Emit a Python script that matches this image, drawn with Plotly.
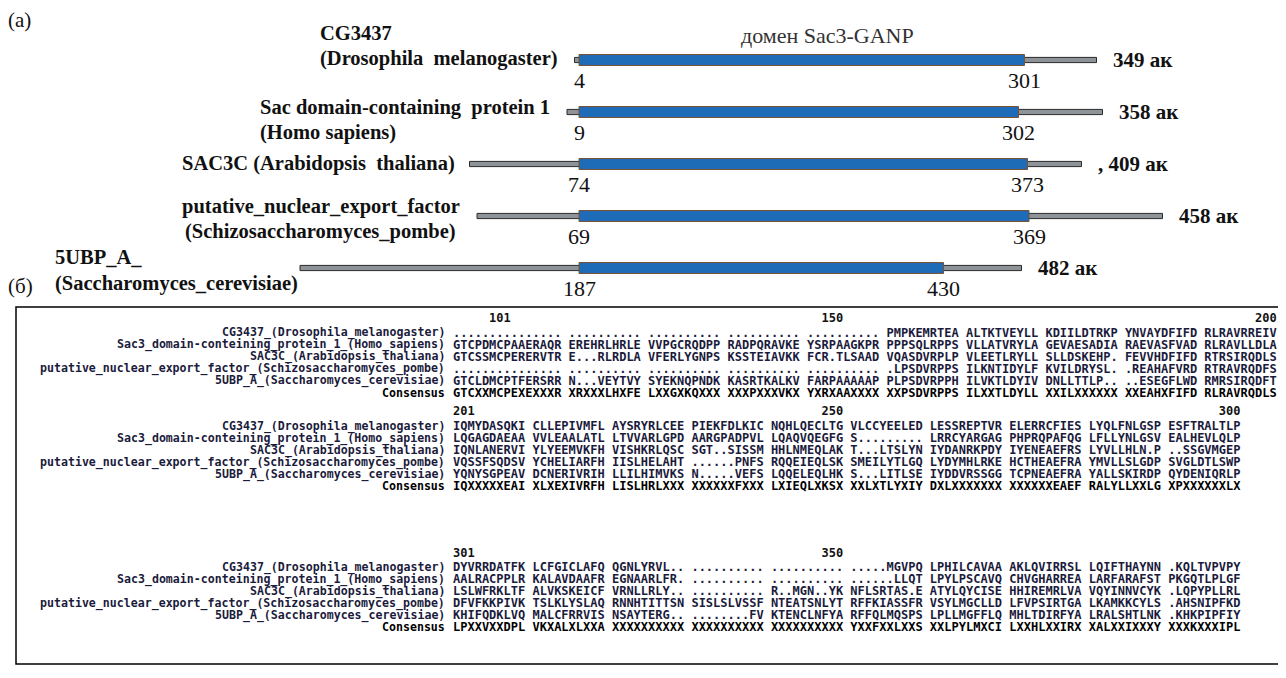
import plotly.graph_objects as go

W, H = 1286, 678          # screenshot size
OFF = 8                   # default page margin of the html body

# ---------------- panel (a): domain architecture ----------------
protein_lines = [
    ["CG3437", "(Drosophila\u00a0\u00a0melanogaster)"],
    ["Sac domain-containing\u00a0\u00a0protein 1", "(Homo sapiens)"],
    ["SAC3C (Arabidopsis\u00a0\u00a0thaliana)"],
    ["putative_nuclear_export_factor", "(Schizosaccharomyces_pombe)"],
    ["5UBP_A_", "(Saccharomyces_cerevisiae)"],
]
domain_start = [4, 9, 74, 69, 187]
domain_end = [301, 302, 373, 369, 430]
protein_length = [349, 358, 409, 458, 482]
length_labels = ["349 ак", "358 ак", ",\u00a0409 ак", "458 ак", "482 ак"]
domain_title = "домен Sac3-GANP"

# ---------------- panel (б): multiple alignment ----------------
align_names = [
    "CG3437_(Drosophila_melanogaster)",
    "Sac3_domain-conteining_protein_1_(Homo_sapiens)",
    "SAC3C_(Arabidopsis_thaliana)",
    "putative_nuclear_export_factor_(Schizosaccharomyces_pombe)",
    "5UBP_A_(Saccharomyces_cerevisiae)",
    "Consensus",
]
block1_ticks = [("101", 5), ("150", 51), ("200", 111)]
block1 = [
    "............... .......... .......... .......... .......... PMPKEMRTEA ALTKTVEYLL KDIILDTRKP YNVAYDFIFD RLRAVRREIV",
    "GTCPDMCPAAERAQR EREHRLHRLE VVPGCRQDPP RADPQRAVKE YSRPAAGKPR PPPSQLRPPS VLLATVRYLA GEVAESADIA RAEVASFVAD RLRAVLLDLA",
    "GTCSSMCPERERVTR E...RLRDLA VFERLYGNPS KSSTEIAVKK FCR.TLSAAD VQASDVRPLP VLEETLRYLL SLLDSKEHP. FEVVHDFIFD RTRSIRQDLS",
    "............... .......... .......... .......... .......... .LPSDVRPPS ILKNTIDYLF KVILDRYSL. .REAHAFVRD RTRAVRQDFS",
    "GTCLDMCPTFERSRR N...VEYTVY SYEKNQPNDK KASRTKALKV FARPAAAAAP PLPSDVRPPH ILVKTLDYIV DNLLTTLP.. ..ESEGFLWD RMRSIRQDFT",
    "GTCXXMCPEXEXXXR XRXXXLHXFE LXXGXKQXXX XXXPXXXVKX YXRXAAXXXX XXPSDVRPPS ILXXTLDYLL XXILXXXXXX XXEAHXFIFD RLRAVRQDLS",
]
block2_ticks = [("201", 0), ("250", 51), ("300", 106)]
block2 = [
    "IQMYDASQKI CLLEPIVMFL AYSRYRLCEE PIEKFDLKIC NQHLQECLTG VLCCYEELED LESSREPTVR ELERRCFIES LYQLFNLGSP ESFTRALTLP",
    "LQGAGDAEAA VVLEAALATL LTVVARLGPD AARGPADPVL LQAQVQEGFG S......... LRRCYARGAG PHPRQPAFQG LFLLYNLGSV EALHEVLQLP",
    "IQNLANERVI YLYEEMVKFH VISHKRLQSC SGT..SISSM HHLNMEQLAK T...LTSLYN IYDANRKPDY IYENEAEFRS LYVLLHLN.P ..SSGVMGEP",
    "VQSSFSQDSV YCHELIARFH IISLHELAHT ......PNFS RQQEIEQLSK SMEILYTLGQ LYDYMHLRKE HCTHEAEFRA YMVLLSLGDP SVGLDTLSWP",
    "YQNYSGPEAV DCNERIVRIH LLILHIMVKS N.....VEFS LQQELEQLHK S...LITLSE IYDDVRSSGG TCPNEAEFRA YALLSKIRDP QYDENIQRLP",
    "IQXXXXXEAI XLXEXIVRFH LISLHRLXXX XXXXXXFXXX LXIEQLXKSX XXLXTLYXIY DXLXXXXXXX XXXXXXEAEF RALYLLXXLG XPXXXXXXLX",
]
block3_ticks = [("301", 0), ("350", 51)]
block3 = [
    "DYVRRDATFK LCFGICLAFQ QGNLYRVL.. .......... .......... .....MGVPQ LPHILCAVAA AKLQVIRRSL LQIFTHAYNN .KQLTVPVPY",
    "AALRACPPLR KALAVDAAFR EGNAARLFR. .......... .......... ......LLQT LPYLPSCAVQ CHVGHARREA LARFARAFST PKGQTLPLGF",
    "LSLWFRKLTF ALVKSKEICF VRNLLRLY.. .......... R..MGN..YK NFLSRTAS.E ATYLQYCISE HHIREMRLVA VQYINNVCYK .LQPYPLLRL",
    "DFVFKKPIVK TSLKLYSLAQ RNNHTITTSN SISLSLVSSF NTEATSNLYT RFFKIASSFR VSYLMGCLLD LFVPSIRTGA LKAMKKCYLS .AHSNIPFKD",
    "KHIFQDKLVQ MALCFRRVIS NSAYTERG.. ........FV KTENCLNFYA RFFQLMQSPS LPLLMGFFLQ MHLTDIRFYA LRALSHTLNK .KHKPIPFIY",
    "LPXXVXXDPL VKXALXLXXA XXXXXXXXXX XXXXXXXXXX XXXXXXXXXX YXXFXXLXXS XXLPYLMXCI LXXHLXXIRX XALXXIXXXY XXXKXXXIPL",
]

# ---------------- layout helpers ----------------
SERIF = "Liberation Serif"
MONO = "DejaVu Sans Mono"
NBSP = "\u00a0"
FW, FH = W - OFF, H - OFF     # figure size (page margin included in screenshot)


def px(x):
    return (x - OFF) / FW


def py(y):
    return 1 - (y - OFF) / FH


def ruler(ticks):
    s = ""
    for lab, col in ticks:
        s += NBSP * (col - len(s)) + lab
    return s


rows = list(range(len(domain_start)))
ORIGIN_PX, PX_PER_AA = 579, 1.5      # screen x where domains are aligned, drawing scale
ROW0_PX, ROW_STEP_PX = 60, 52         # screen y of first bar, spacing of bars

fig = go.Figure()
fig.add_trace(go.Bar(
    y=rows, base=[1 - s for s in domain_start],
    x=[L - 1 for L in protein_length],
    orientation="h", width=0.1,
    marker=dict(color="#8d9396", line=dict(color="#2a2a2a", width=1)),
    hoverinfo="skip", showlegend=False))
fig.add_trace(go.Bar(
    y=rows, base=[0] * len(rows),
    x=[e - s for s, e in zip(domain_start, domain_end)],
    orientation="h", width=0.21,
    marker=dict(color="#1e6bb8", line=dict(color="#7a5230", width=1)),
    hoverinfo="skip", showlegend=False))

ann = []
for i, (s, e, L, lab) in enumerate(zip(domain_start, domain_end, protein_length, length_labels)):
    for val, xx in ((s, 0), (e, e - s)):
        ann.append(dict(x=xx, y=i, xref="x", yref="y", text=str(val), showarrow=False,
                        yshift=-20, xanchor="center", yanchor="middle",
                        font=dict(family=SERIF, size=22, color="#111")))
    ann.append(dict(x=L - s, y=i, xref="x", yref="y", text=lab, showarrow=False,
                    xshift=14, xanchor="left", yanchor="middle",
                    font=dict(family=SERIF, size=21, color="#111", weight="bold")))

# protein names (screen left x, y of each line)
name_pos = [[(318, 33), (318, 59)], [(258, 108), (258, 133)], [(180, 164)],
            [(180, 206), (183, 231)], [(53, 257), (53, 283)]]
for lines, poss in zip(protein_lines, name_pos):
    for t, (x0, y0) in zip(lines, poss):
        ann.append(dict(x=px(x0), y=py(y0), xref="paper", yref="paper", text=t,
                        showarrow=False, xanchor="left", yanchor="middle",
                        font=dict(family=SERIF, size=20.5, color="#111", weight="bold")))

ann.append(dict(x=px(827), y=py(35), xref="paper", yref="paper", text=domain_title,
                showarrow=False, xanchor="center", yanchor="middle",
                font=dict(family=SERIF, size=22, color="#333")))
ann.append(dict(x=px(6), y=py(20), xref="paper", yref="paper", text="(a)",
                showarrow=False, xanchor="left", yanchor="middle",
                font=dict(family=SERIF, size=21, color="#111")))
ann.append(dict(x=px(6), y=py(286), xref="paper", yref="paper", text="(б)",
                showarrow=False, xanchor="left", yanchor="middle",
                font=dict(family=SERIF, size=21, color="#111")))

# alignment blocks: (ruler, sequences, screen y of ruler, y of first row)
LABEL_RIGHT, SEQ_LEFT, LINE = 447, 451, 12
blocks = [(block1_ticks, block1, 318.5, 332.5), (block2_ticks, block2, 411, 426),
          (block3_ticks, block3, 553, 567)]
for ticks, seqs, yrul, yfirst in blocks:
    ann.append(dict(x=px(SEQ_LEFT), y=py(yrul), xref="paper", yref="paper",
                    text=ruler(ticks), showarrow=False, xanchor="left", yanchor="middle",
                    font=dict(family=MONO, size=12, color="#111", weight="bold")))
    for r, (name, seq) in enumerate(zip(align_names, seqs)):
        yy = yfirst + LINE * r
        col = "#000" if name == "Consensus" else "#1b1b3c"
        ann.append(dict(x=px(LABEL_RIGHT), y=py(yy), xref="paper", yref="paper",
                        text=name, showarrow=False, xanchor="right", yanchor="middle",
                        font=dict(family=MONO, size=11.6, color=col, weight="bold")))
        ann.append(dict(x=px(SEQ_LEFT), y=py(yy), xref="paper", yref="paper",
                        text=seq.replace(" ", NBSP), showarrow=False, xanchor="left",
                        yanchor="middle",
                        font=dict(family=MONO, size=12, color=col, weight="bold")))

fig.update_layout(
    width=FW, height=FH, margin=dict(l=0, r=0, t=0, b=0),
    paper_bgcolor="white", plot_bgcolor="white", barmode="overlay",
    xaxis=dict(range=[(OFF - ORIGIN_PX) / PX_PER_AA, (W - ORIGIN_PX) / PX_PER_AA],
               visible=False, fixedrange=True),
    yaxis=dict(range=[(H - ROW0_PX) / ROW_STEP_PX, (OFF - ROW0_PX) / ROW_STEP_PX],
               visible=False, fixedrange=True),
    annotations=ann,
    shapes=[dict(type="rect", xref="paper", yref="paper",
                 x0=px(16), x1=px(1280), y0=py(307), y1=py(664),
                 line=dict(color="#000", width=1.5))],
)
fig.write_html("out.html")
